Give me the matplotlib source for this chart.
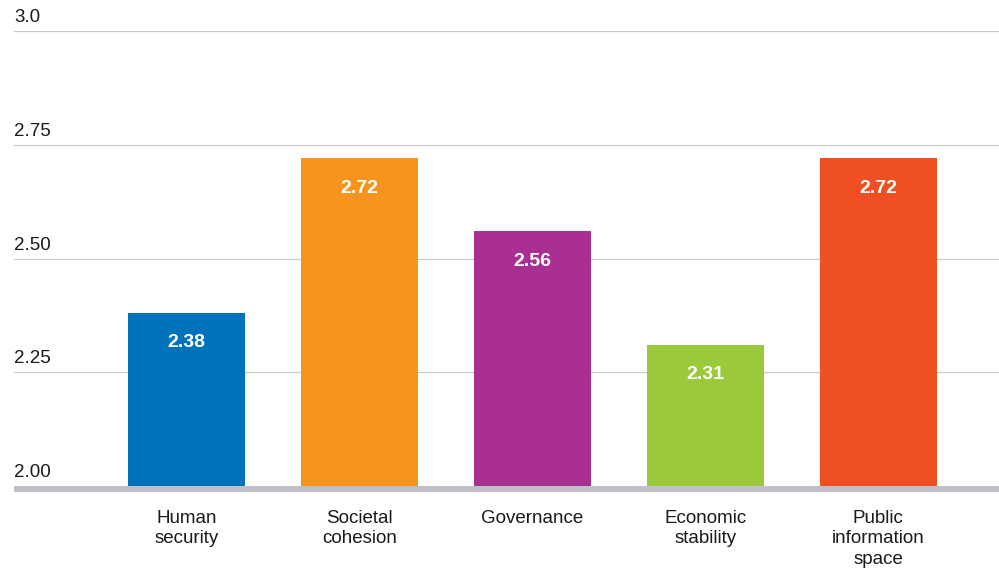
import matplotlib.pyplot as plt
import numpy as np

# --- data ---
categories = ['Human\nsecurity', 'Societal\ncohesion', 'Governance',
              'Economic\nstability', 'Public\ninformation\nspace']
values = [2.38, 2.72, 2.56, 2.31, 2.72]
bar_colors = ['#0072BC', '#F7941D', '#A93092', '#9BC93C', '#F04E23']
y_ticks = [2.00, 2.25, 2.50, 2.75, 3.0]
y_tick_labels = ['2.00', '2.25', '2.50', '2.75', '3.0']

plt.rcParams['font.family'] = ['Liberation Sans', 'DejaVu Sans']

fig = plt.figure(figsize=(9.99, 5.72), dpi=100)
ax = fig.add_axes([14 / 999, 86 / 572, 985 / 999, 455 / 572])

x = np.arange(len(categories))
ax.bar(x, values, width=0.676, color=bar_colors, zorder=2)

ax.set_xlim(-0.997, 4.697)
ax.set_ylim(2.0, 3.0)

# spines first (changing spine position resets tick labels)
for s in ['top', 'left', 'right']:
    ax.spines[s].set_visible(False)
ax.spines['bottom'].set_position(('outward', 2))
ax.spines['bottom'].set_color('#BDC1C7')
ax.spines['bottom'].set_linewidth(4.3)
ax.spines['bottom'].set_capstyle('butt')
ax.spines['bottom'].set_zorder(3)

# gridlines + labels sitting on top of them
for v, lab in zip(y_ticks, y_tick_labels):
    if v > 2.0:
        ax.axhline(v, color='#C9CACC', linewidth=0.9, zorder=1)
    ax.annotate(lab, xy=(0, v), xycoords=('axes fraction', 'data'),
                xytext=(0, 3.5), textcoords='offset points',
                ha='left', va='bottom', fontsize=13.5, color='#1a1a1a')

# value labels inside the bars
for xi, v in zip(x, values):
    ax.annotate(f'{v:.2f}', xy=(xi, v), xytext=(0, -21.5),
                textcoords='offset points', ha='center', va='center',
                fontsize=14, fontweight='bold', color='white', zorder=3)

ax.set_yticks([])
ax.set_xticks(x)
ax.set_xticklabels(categories, fontsize=13.5, color='#1a1a1a', linespacing=1.27)
ax.tick_params(axis='x', length=0, pad=15)

plt.savefig('out.png', dpi=100)
